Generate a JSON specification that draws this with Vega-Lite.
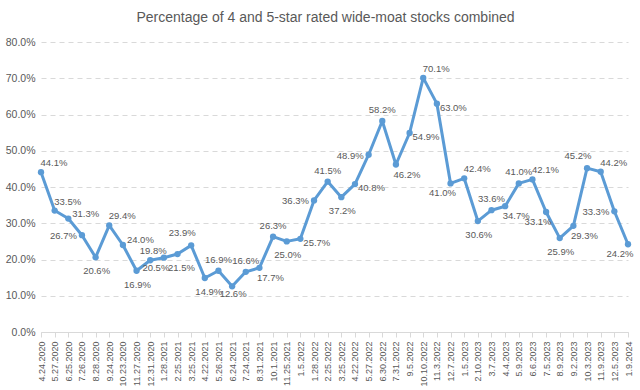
{
  "$schema": "https://vega.github.io/schema/vega-lite/v6.json",
  "autosize": "none",
  "width": 587,
  "height": 290,
  "padding": {"left": 41, "top": 42, "right": 12, "bottom": 58},
  "background": "white",
  "title": {
    "text": "Percentage of 4 and 5-star rated wide-moat stocks combined",
    "font": "Liberation Sans",
    "fontSize": 14,
    "fontWeight": "normal",
    "color": "#595959",
    "anchor": "middle",
    "frame": "group",
    "dx": -9,
    "offset": 12
  },
  "config": {
    "view": {"stroke": null},
    "axis": {"labelFont": "Liberation Sans", "labelColor": "#595959"},
    "text": {"font": "Liberation Sans", "fontSize": 9.5, "color": "#595959"}
  },
  "data": {
    "values": [
      {"date": "4.24.2020", "v": 0.441},
      {"date": "5.27.2020", "v": 0.335},
      {"date": "6.25.2020", "v": 0.313},
      {"date": "7.26.2020", "v": 0.267},
      {"date": "8.28.2020", "v": 0.206},
      {"date": "9.24.2020", "v": 0.294},
      {"date": "10.23.2020", "v": 0.240},
      {"date": "11.27.2020", "v": 0.169},
      {"date": "12.31.2020", "v": 0.198},
      {"date": "1.28.2021", "v": 0.205},
      {"date": "2.25.2021", "v": 0.215},
      {"date": "3.25.2021", "v": 0.239},
      {"date": "4.22.2021", "v": 0.149},
      {"date": "5.26.2021", "v": 0.169},
      {"date": "6.24.2021", "v": 0.126},
      {"date": "7.24.2021", "v": 0.166},
      {"date": "8.31.2021", "v": 0.177},
      {"date": "10.1.2021", "v": 0.263},
      {"date": "11.25.2021", "v": 0.250},
      {"date": "1.5.2022", "v": 0.257},
      {"date": "1.28.2022", "v": 0.363},
      {"date": "2.25.2022", "v": 0.415},
      {"date": "3.25.2022", "v": 0.372},
      {"date": "4.22.2022", "v": 0.408},
      {"date": "5.27.2022", "v": 0.489},
      {"date": "6.30.2022", "v": 0.582},
      {"date": "7.31.2022", "v": 0.462},
      {"date": "9.5.2022", "v": 0.549},
      {"date": "10.10.2022", "v": 0.701},
      {"date": "11.3.2022", "v": 0.630},
      {"date": "12.7.2022", "v": 0.410},
      {"date": "1.5.2023", "v": 0.424},
      {"date": "2.10.2023", "v": 0.306},
      {"date": "3.7.2023", "v": 0.336},
      {"date": "4.4.2023", "v": 0.347},
      {"date": "5.9.2023", "v": 0.410},
      {"date": "6.6.2023", "v": 0.421},
      {"date": "7.5.2023", "v": 0.331},
      {"date": "8.9.2023", "v": 0.259},
      {"date": "9.2.2023", "v": 0.293},
      {"date": "10.3.2023", "v": 0.452},
      {"date": "11.9.2023", "v": 0.442},
      {"date": "12.5.2023", "v": 0.333},
      {"date": "1.9.2024", "v": 0.242}
    ]
  },
  "transform": [
    {"window": [{"op": "row_number", "as": "i"}]}
  ],
  "encoding": {
    "x": {
      "field": "date",
      "type": "ordinal",
      "sort": null,
      "scale": {"type": "point", "padding": 0},
      "axis": {
        "title": null,
        "labelAngle": -90,
        "labelFontSize": 9,
        "labelPadding": 4,
        "domainColor": "#d9d9d9",
        "tickColor": "#d9d9d9",
        "tickSize": 5,
        "grid": false
      }
    },
    "y": {
      "field": "v",
      "type": "quantitative",
      "scale": {"domain": [0, 0.8]},
      "axis": {
        "title": null,
        "format": ".1%",
        "values": [0, 0.1, 0.2, 0.3, 0.4, 0.5, 0.6, 0.7, 0.8],
        "labelFontSize": 10.5,
        "labelPadding": 6,
        "domain": false,
        "ticks": false,
        "gridColor": "#d9d9d9",
        "gridDash": [5, 4],
        "gridWidth": 1
      }
    }
  },
  "layer": [
    {"mark": {"type": "line", "color": "#5B9BD5", "strokeWidth": 3, "strokeJoin": "round"}},
    {"mark": {"type": "point", "filled": true, "color": "#5B9BD5", "size": 40, "opacity": 1}},
    {
      "transform": [{"filter": "indexof([14,16,18,22,26,34,36], datum.i) >= 0"}],
      "mark": {"type": "text", "align": "center", "dy": -11},
      "encoding": {"text": {"field": "v", "type": "quantitative", "format": ".1%"}}
    },
    {
      "transform": [{"filter": "indexof([9], datum.i) >= 0"}],
      "mark": {"type": "text", "align": "center", "dx": 3, "dy": -9},
      "encoding": {"text": {"field": "v", "type": "quantitative", "format": ".1%"}}
    },
    {
      "transform": [{"filter": "indexof([1,2,6,29,32,37,42], datum.i) >= 0"}],
      "mark": {"type": "text", "align": "center", "dx": 13, "dy": -9},
      "encoding": {"text": {"field": "v", "type": "quantitative", "format": ".1%"}}
    },
    {
      "transform": [{"filter": "indexof([12,41], datum.i) >= 0"}],
      "mark": {"type": "text", "align": "center", "dx": -9, "dy": -12},
      "encoding": {"text": {"field": "v", "type": "quantitative", "format": ".1%"}}
    },
    {
      "transform": [{"filter": "indexof([3,7], datum.i) >= 0"}],
      "mark": {"type": "text", "align": "left", "dx": 4, "dy": -5},
      "encoding": {"text": {"field": "v", "type": "quantitative", "format": ".1%"}}
    },
    {
      "transform": [{"filter": "indexof([20,24,28,30], datum.i) >= 0"}],
      "mark": {"type": "text", "align": "left", "dx": 3, "dy": 4},
      "encoding": {"text": {"field": "v", "type": "quantitative", "format": ".1%"}}
    },
    {
      "transform": [{"filter": "indexof([4,21,25,43], datum.i) >= 0"}],
      "mark": {"type": "text", "align": "right", "dx": -5, "dy": 1},
      "encoding": {"text": {"field": "v", "type": "quantitative", "format": ".1%"}}
    },
    {
      "transform": [{"filter": "indexof([5,8,19,23,33,39], datum.i) >= 0"}],
      "mark": {"type": "text", "align": "center", "dx": 1, "dy": 14},
      "encoding": {"text": {"field": "v", "type": "quantitative", "format": ".1%"}}
    },
    {
      "transform": [{"filter": "indexof([11,13], datum.i) >= 0"}],
      "mark": {"type": "text", "align": "center", "dx": 4, "dy": 14},
      "encoding": {"text": {"field": "v", "type": "quantitative", "format": ".1%"}}
    },
    {
      "transform": [{"filter": "indexof([15], datum.i) >= 0"}],
      "mark": {"type": "text", "align": "center", "dx": 1, "dy": 8},
      "encoding": {"text": {"field": "v", "type": "quantitative", "format": ".1%"}}
    },
    {
      "transform": [{"filter": "indexof([17,27,35,40], datum.i) >= 0"}],
      "mark": {"type": "text", "align": "center", "dx": 11, "dy": 10},
      "encoding": {"text": {"field": "v", "type": "quantitative", "format": ".1%"}}
    },
    {
      "transform": [{"filter": "indexof([10,31,38,44], datum.i) >= 0"}],
      "mark": {"type": "text", "align": "center", "dx": -8, "dy": 10},
      "encoding": {"text": {"field": "v", "type": "quantitative", "format": ".1%"}}
    }
  ]
}
